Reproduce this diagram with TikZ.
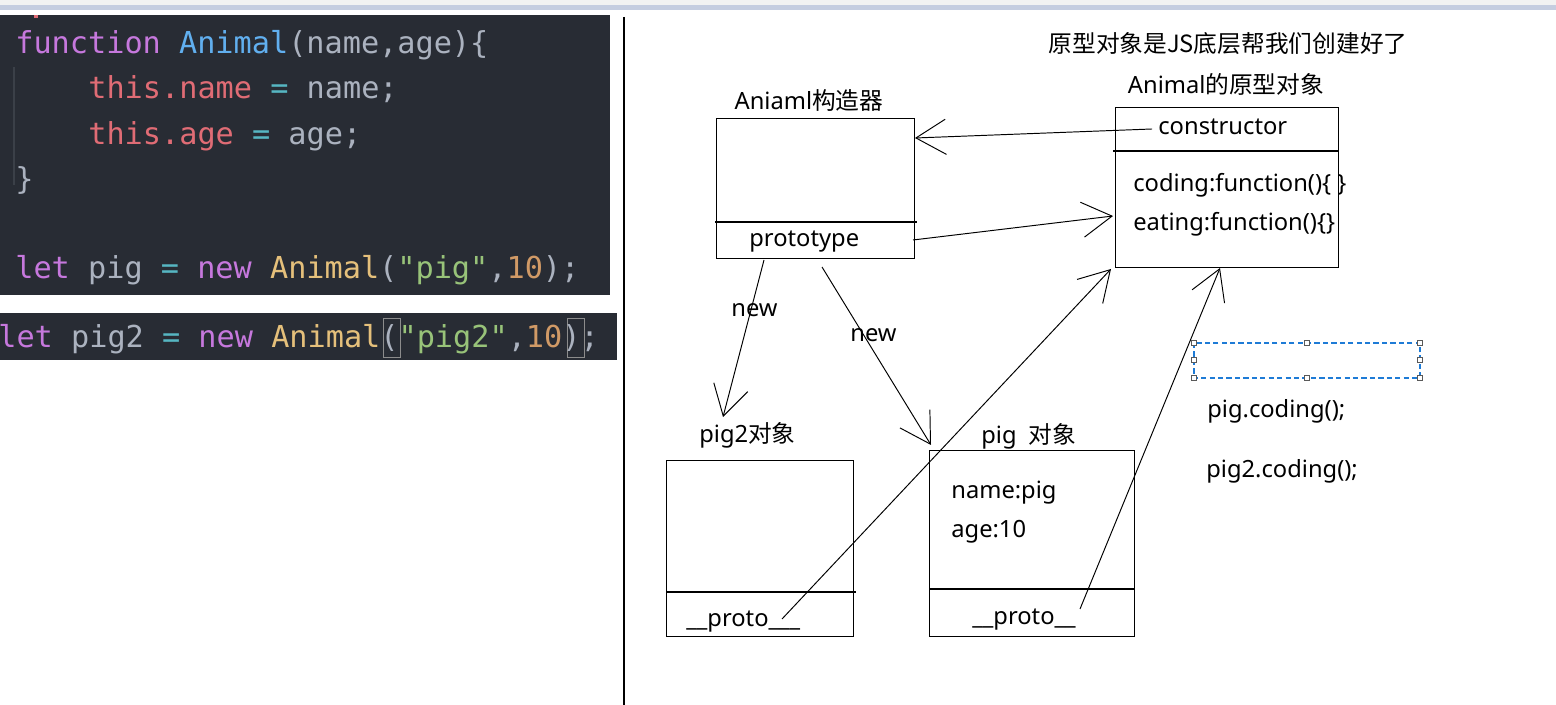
\documentclass[tikz,border=0pt]{standalone}
\usepackage{fontspec}
\setmainfont{Noto Sans}
\newfontfamily\cjk{Noto Sans CJK SC}
\newfontfamily\codefont{DejaVu Sans Mono}
\usetikzlibrary{arrows.meta}
\definecolor{codebg}{HTML}{282C34}
\definecolor{codetxt}{HTML}{ABB2BF}
\definecolor{codekw}{HTML}{C678DD}
\definecolor{codefn}{HTML}{61AFEF}
\definecolor{codecls}{HTML}{E5C07B}
\definecolor{codeprop}{HTML}{E06C75}
\definecolor{codeop}{HTML}{56B6C2}
\definecolor{codestr}{HTML}{98C379}
\definecolor{codenum}{HTML}{D19A66}
\definecolor{codeguide}{HTML}{3B4048}
\definecolor{topbar}{HTML}{C5CDE0}
\definecolor{selblue}{HTML}{1E7BD6}
\tikzset{>={Straight Barb[length=17pt,width=20pt]}}
\tikzset{
	% boxes of the diagram
	objbox/.style={draw=black,line width=0.75pt,inner sep=0pt,anchor=north west},
	% text styles
	label text/.style={font=\fontsize{13.5}{16}\selectfont,inner sep=0pt,anchor=base west},
	code text/.style={font=\codefont\fontsize{17.2}{20}\selectfont,inner sep=0pt,anchor=base west,text=codetxt},
	% connectors
	link/.style={->,line width=0.55pt},
	% selection handles
	handle/.style={draw=black!65,fill=white,line width=0.5pt,inner sep=0pt,minimum size=2.8pt},
}

\begin{document}
\begin{tikzpicture}[x=0.02cm,y=-0.02cm]
\useasboundingbox (0,0) rectangle (1556,705);
% window bar on top
\fill[black!5] (0,0) rectangle (1556,5);
\fill[topbar] (0,5) rectangle (1556,10);
% the code panels
\fill[codebg] (0,15) rectangle (610,295);
\fill[codebg] (0,313) rectangle (617,360);
\fill[codeprop] (34,15) rectangle (38,18);
\draw[codeguide,line width=0.8pt] (14,67) -- (14,185);
\draw[black!45,line width=0.5pt] (383,318) rectangle (400,357);
\draw[black!45,line width=0.5pt] (567,318) rectangle (584,357);
\node[code text] (fnline) at (15,54) {\textcolor{codekw}{function} \textcolor{codefn}{Animal}(name,age)\{};
\node[code text] (nameline) at (88,99) {\textcolor{codeprop}{this.name} \textcolor{codeop}{=} name;};
\node[code text] (ageline) at (88,145) {\textcolor{codeprop}{this.age} \textcolor{codeop}{=} age;};
\node[code text] (closeline) at (15,190) {\}};
\node[code text] (pigline) at (15,279) {\textcolor{codekw}{let} pig \textcolor{codeop}{=} \textcolor{codekw}{new} \textcolor{codecls}{Animal}(\textcolor{codestr}{"pig"},\textcolor{codenum}{10});};
\node[code text] (pigtwoline) at (-2,348) {\textcolor{codekw}{let} pig2 \textcolor{codeop}{=} \textcolor{codekw}{new} \textcolor{codecls}{Animal}(\textcolor{codestr}{"pig2"},\textcolor{codenum}{10});};
% separator
\draw[line width=0.8pt] (624,17) -- (624,705);

% the constructor
\node[label text,anchor=base] (ctortitle) at (809,110) {Aniaml{\cjk 构造器}};
\node[objbox,minimum width=198*0.02cm,minimum height=140*0.02cm] (ctor) at (716,118) {};
\draw[line width=0.75pt] (715,222) -- (917,222);
\node[label text] (prototype) at (749,247) {prototype};

% the prototype object
\node[label text,anchor=base] (note) at (1228,53) {\cjk 原型对象是JS底层帮我们创建好了};
\node[label text,anchor=base] (prototitle) at (1226,94) {Animal{\cjk 的原型对象}};
\node[objbox,minimum width=223*0.02cm,minimum height=160*0.02cm] (proto) at (1115,107) {};
\draw[line width=0.75pt] (1113,151) -- (1338,151);
\node[label text] (constructor) at (1158,135) {constructor};
\node[label text] (coding) at (1133,192) {coding:function()\{ \}};
\node[label text] (eating) at (1133,231) {eating:function()\{\}};

% pig2 object
\node[label text] (pigtwotitle) at (699,443) {pig2{\cjk 对象}};
\node[objbox,minimum width=187*0.02cm,minimum height=176*0.02cm] (pigtwo) at (666,460) {};
\draw[line width=0.75pt] (666,592) -- (856,592);
\node[label text] (pigtwoproto) at (686,627) {\_\_proto\_\_\_};

% pig object
\node[label text] (pigtitle) at (981,444) {pig\ \ {\cjk 对象}};
\node[objbox,minimum width=205*0.02cm,minimum height=186*0.02cm] (pig) at (929,450) {};
\draw[line width=0.75pt] (929,589) -- (1134,589);
\node[label text] (pigname) at (951,499) {name:pig};
\node[label text] (pigage) at (951,538) {age:10};
\node[label text] (pigproto) at (972,625) {\_\_proto\_\_};

% the calls
\node[label text] (pigcall) at (1207,418) {pig.coding();};
\node[label text] (pigtwocall) at (1206,478) {pig2.coding();};
\draw[selblue,line width=0.6pt,dash pattern=on 3pt off 1.8pt] (1194,343) rectangle (1420,378);
\foreach \hx/\hy in {1194/343,1307/343,1420/343,1194/360,1420/360,1194/378,1307/378,1420/378}
  \node[handle] at (\hx,\hy) {};

% end points of the connectors
\coordinate (ctor-in) at (915,138);
\coordinate (ctor-out) at (913,240);
\coordinate (ctor-new1) at (764,260);
\coordinate (ctor-new2) at (822,267);
\coordinate (cons-out) at (1152,129);
\coordinate (proto-in1) at (1113,216);
\coordinate (proto-in2) at (1111,269);
\coordinate (proto-in3) at (1220,268);
\coordinate (pigtwo-in) at (723,417);
\coordinate (pig-in) at (931,445);
\coordinate (pigtwo-out) at (782,619);
\coordinate (pig-out) at (1080,609);

% the connectors
\draw[link] (cons-out) -- (ctor-in);
\draw[link] (ctor-out) -- (proto-in1);
\draw[link] (ctor-new1) -- (pigtwo-in);
\node[label text] (newone) at (731,317) {new};
\draw[link] (ctor-new2) -- (pig-in);
\node[label text] (newtwo) at (850,342) {new};
\draw[link] (pigtwo-out) -- (proto-in2);
\draw[link] (pig-out) -- (proto-in3);
\end{tikzpicture}
\end{document}
